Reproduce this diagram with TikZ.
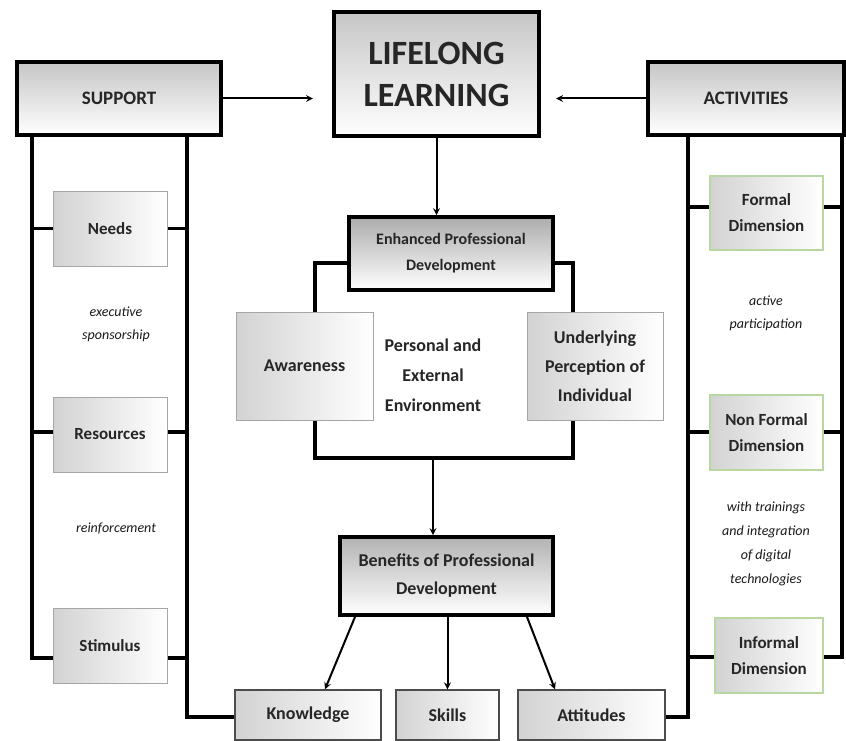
\documentclass[tikz,border=0pt]{standalone}
\usepackage{fontspec}
\setmainfont{Carlito}
\usetikzlibrary{arrows}
\definecolor{dimgreen}{RGB}{185,215,160}
\tikzstyle{heading} = [rectangle, draw=black, line width=3.8pt, top color=gray!45, bottom color=white, text=black!85, font=\bfseries, align=center]
\tikzstyle{item} = [rectangle, draw=gray!70, line width=1pt, left color=gray!35, right color=white, text=black!85, font=\bfseries\fontsize{17}{26}\selectfont, align=center]
\tikzstyle{dimension} = [item, draw=dimgreen, line width=1.3pt]
\tikzstyle{outcome} = [item, draw=black!70, line width=1.4pt, font=\bfseries\fontsize{18}{26}\selectfont]
\tikzstyle{note} = [font=\itshape\fontsize{14}{23}\selectfont, align=center, text=black!90]
\tikzstyle{tree} = [line width=3.2pt]
\tikzstyle{arrow} = [line width=2pt,->,>=stealth]

\begin{document}
\begin{tikzpicture}[x=1pt,y=-1pt]
\useasboundingbox (0,0) rectangle (846,741);
% top row
\node[heading, minimum width=204, minimum height=73, font=\bfseries\fontsize{19}{24}\selectfont] (support) at (119,98.5) {SUPPORT};
\node[heading, minimum width=205, minimum height=124, font=\bfseries\fontsize{34}{42}\selectfont] (lll) at (436.5,74) {LIFELONG\\LEARNING};
\node[heading, minimum width=196, minimum height=73, font=\bfseries\fontsize{19}{24}\selectfont] (activities) at (746,98.5) {ACTIVITIES};
\draw[arrow] (support.east) -- ++(90,0);
\draw[arrow] (activities.west) -- ++(-90,0);

% support side
\node[item, minimum width=114, minimum height=75] (needs) at (110,228.5) {Needs};
\node[note] (sponsor) at (116,324) {executive\\sponsorship};
\node[item, minimum width=114, minimum height=75] (resources) at (110,434.5) {Resources};
\node[note] (reinforce) at (116,528) {reinforcement};
\node[item, minimum width=114, minimum height=75] (stimulus) at (110,646) {Stimulus};

% activities side
\node[dimension, minimum width=113, minimum height=74] (formal) at (766.5,213) {Formal\\Dimension};
\node[note] (active) at (766,313) {active\\participation};
\node[dimension, minimum width=113, minimum height=75] (nonformal) at (766.5,432.5) {Non Formal\\Dimension};
\node[note, font=\itshape\fontsize{14}{24}\selectfont] (trainings) at (766,544) {with trainings\\and integration\\of digital\\technologies};
\node[dimension, minimum width=108, minimum height=75] (informal) at (769,655.5) {Informal\\Dimension};

% centre
\node[heading, top color=gray!65, minimum width=204, minimum height=73, font=\bfseries\fontsize{16}{26}\selectfont] (enhanced) at (451,253.5) {Enhanced Professional\\Development};
\node[item, minimum width=137, minimum height=108, font=\bfseries\fontsize{18}{29}\selectfont] (awareness) at (304.5,366) {Awareness};
\node[item, minimum width=136, minimum height=108, font=\bfseries\fontsize{18}{29}\selectfont] (underlying) at (595,366) {Underlying\\Perception of\\Individual};
\node[font=\bfseries\fontsize{18}{30}\selectfont, text=black!85, align=center] (personal) at (433,375) {Personal and\\External\\Environment};
\coordinate (join) at (433,458);
\node[heading, top color=gray!60, minimum width=213, minimum height=78, font=\bfseries\fontsize{18}{28}\selectfont] (benefits) at (446.5,576) {Benefits of Professional\\Development};
\node[outcome, minimum width=146, minimum height=50] (knowledge) at (308,715) {Knowledge};
\node[outcome, minimum width=103, minimum height=50] (skills) at (447.5,715) {Skills};
\node[outcome, minimum width=147, minimum height=50] (attitudes) at (591.5,715) {Attitudes};

% support rails
\draw[tree] (32,137) -- (32,658) -- (stimulus.west |- 0,658);
\draw[tree] (187,137) -- (187,717) -- (knowledge.west |- 0,717);
\draw[tree] (32,228.5) -- (needs.west);
\draw[tree] (needs.east) -- (187,228.5);
\draw[tree] (32,432) -- (resources.west |- 0,432);
\draw[tree] (resources.east |- 0,432) -- (187,432);
\draw[tree] (stimulus.east |- 0,658) -- (187,658);

% activities rails
\draw[tree] (842,137) -- (842,657) -- (informal.east |- 0,657);
\draw[tree] (688,137) -- (688,717) -- (attitudes.east |- 0,717);
\draw[tree] (688,207) -- (formal.west |- 0,207);
\draw[tree] (formal.east |- 0,207) -- (842,207);
\draw[tree] (688,432) -- (nonformal.west |- 0,432);
\draw[tree] (nonformal.east |- 0,432) -- (842,432);
\draw[tree] (688,657) -- (informal.west |- 0,657);

% centre links
\draw[arrow] (lll.south) -- (lll.south |- enhanced.north);
\draw[tree] ([yshift=-9.5pt]enhanced.west) -| ([xshift=10.5pt]awareness.north);
\draw[tree] ([yshift=-9.5pt]enhanced.east) -| ([xshift=-22pt]underlying.north);
\draw[tree] ([xshift=10.5pt]awareness.south) |- (join) -| ([xshift=-22pt]underlying.south);
\draw[arrow] (join) -- (join |- benefits.north);
\draw[arrow] ([xshift=-91.5pt]benefits.south) -- ([xshift=17pt]knowledge.north);
\draw[arrow] (skills.north |- benefits.south) -- (skills.north);
\draw[arrow] ([xshift=80.5pt]benefits.south) -- ([xshift=-36.5pt]attitudes.north);
\end{tikzpicture}
\end{document}
